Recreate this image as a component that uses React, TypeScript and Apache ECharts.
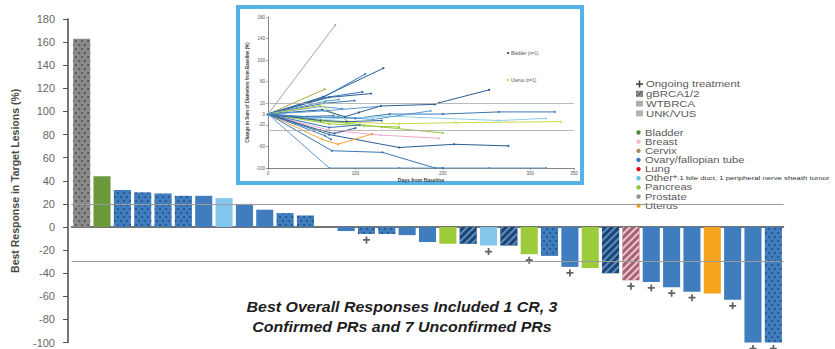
import React, { useEffect, useRef } from "react";
import * as echarts from "echarts";

// ---------- Waterfall data ----------
const patients = ["P1","P2","P3","P4","P5","P6","P7","P8","P9","P10","P11","P12","P13","P14","P15","P16","P17","P18","P19","P20","P21","P22","P23","P24","P25","P26","P27","P28","P29","P30","P31","P32","P33","P34","P35"];
const bestResponse = [163, 44, 32, 30, 29, 27, 27, 25, 20, 15, 12, 10, 0, -3.5, -6, -6, -7, -13, -14.5, -14.5, -16, -16, -23.5, -25, -34.5, -35.5, -40, -46, -47.5, -52, -56, -57.5, -63, -100, -100];
const tumorType = ["Prostate","Bladder","Ovary","Ovary","Ovary","Ovary","Ovary","Other","Ovary","Ovary","Ovary","Ovary","Ovary","Ovary","Ovary","Ovary","Ovary","Ovary","Pancreas","Ovary","Other","Ovary","Pancreas","Ovary","Ovary","Pancreas","Ovary","Breast","Ovary","Ovary","Ovary","Uterus","Ovary","Ovary","Ovary"];
const brcaStatus = ["WT","UNK","WT","WT","WT","WT","UNK","UNK","UNK","UNK","WT","WT","UNK","UNK","WT","WT","UNK","UNK","UNK","G","UNK","G","UNK","WT","UNK","UNK","G","G","UNK","UNK","UNK","UNK","UNK","UNK","WT"];
const ongoing = [0,0,0,0,0,0,0,0,0,0, 0,0,0,0,1,0,0,0,0,0, 1,0,1,0,1,0,0,1,1,1, 1,0,1,1,1];
const refLines = [20, -30];
const annotation = ["Best Overall Responses Included 1 CR, 3", "Confirmed PRs and 7 Unconfirmed PRs"];

// ---------- Legend data ----------
const statusLabels = ["Ongoing treatment", "gBRCA1/2", "WTBRCA", "UNK/VUS"];
const tumorLabels = ["Bladder", "Breast", "Cervix", "Ovary/fallopian tube", "Lung", "Other*", "Pancreas", "Prostate", "Uterus"];
const tumorColors = ["#4f8a3e", "#f4b5c6", "#a38b62", "#3b78bb", "#e5001c", "#63c5ec", "#8cc540", "#8d8f9c", "#f29d20"];
const otherNote = ":1 bile duct, 1 peripheral nerve sheath tumor";

// ---------- Spider (inset) data ----------
const spiderLines: { t: string; p: number[][] }[] = [
  { t: "prostate", p: [[0, 0], [77, 165]] },
  { t: "bladder", p: [[0, 0], [65, 46]] },
  { t: "ov2", p: [[0, 0], [63, 32], [132, 85]] },
  { t: "ov1", p: [[0, 0], [60, 28], [111, 74]] },
  { t: "ov1", p: [[0, 0], [62, 30], [108, 41]] },
  { t: "ov2", p: [[0, 0], [70, 31], [118, 38]] },
  { t: "ov3", p: [[0, 0], [66, 24], [81, 27]] },
  { t: "ov1", p: [[0, 0], [64, 20], [99, 25]] },
  { t: "ov3", p: [[0, 0], [60, 14], [85, 10]] },
  { t: "pancY", p: [[0, 0], [60, 16], [90, -12]] },
  { t: "ov2", p: [[0, 0], [62, 8], [88, -5], [104, 3], [129, 15], [191, 18], [196, 21], [253, 45]] },
  { t: "ov1", p: [[0, 0], [45, -5], [100, -8], [139, 0], [200, 0], [264, 4], [328, 4]] },
  { t: "other", p: [[0, 0], [60, -10], [140, -4], [264, -12], [318, -8]] },
  { t: "pancY", p: [[0, 0], [65, -14], [150, -18], [215, -16], [335, -14]] },
  { t: "pancreas", p: [[0, 0], [62, -12], [130, -24], [200, -35]] },
  { t: "pancreas", p: [[0, 0], [70, -18], [110, -22], [150, -24]] },
  { t: "breast", p: [[0, 0], [70, -30], [129, -39], [196, -45]] },
  { t: "ov2", p: [[0, 0], [70, -38], [150, -62], [213, -56], [275, -59]] },
  { t: "uterus", p: [[0, 0], [62, -47], [80, -56], [119, -37]] },
  { t: "ov1", p: [[0, 0], [73, -68], [131, -71], [191, -100], [200, -100]] },
  { t: "ov3", p: [[0, 0], [70, -100], [150, -100], [253, -100], [318, -100]] },
  { t: "ov1", p: [[0, 0], [65, -40], [72, -47]] },
  { t: "ov2", p: [[0, 0], [60, -30], [76, -36], [100, -26]] },
  { t: "ov1", p: [[0, 0], [70, -25], [105, -20]] },
  { t: "ov3", p: [[0, 0], [45, -8], [80, -5], [120, -10], [186, 6]] },
  { t: "ov2", p: [[0, 0], [60, -12], [90, -14], [130, -12]] },
  { t: "ov1", p: [[0, 0], [30, -5], [75, -3]] },
  { t: "ov3", p: [[0, 0], [65, 6], [125, 14]] },
];
const spiderTicks = [-100, -60, -20, 0, 20, 60, 100, 140, 180];
const insetLegend = ["Bladder (n=1)", "Uterus (n=1)"];

const FONT = "Liberation Sans, Arial, Helvetica, sans-serif";

const barBase: Record<string, string> = {
  Prostate: "#8a8a8a",
  Bladder: "#6a9a3b",
  Ovary: "#3f7dbe",
  Other: "#85c6ec",
  Pancreas: "#9ccb3c",
  Breast: "#b07686",
  Uterus: "#f5a31f",
};
const spiderColor: Record<string, string> = {
  prostate: "#a3a3a3",
  bladder: "#b0a84a",
  ov1: "#3a77b5",
  ov2: "#2c5d92",
  ov3: "#5a9bd2",
  other: "#8fcdea",
  pancreas: "#9acb3c",
  pancY: "#cbd84a",
  breast: "#f0a6cc",
  uterus: "#f2a23a",
};

function barItem(i: number) {
  const t = tumorType[i];
  const s = brcaStatus[i];
  let color = barBase[t];
  let decal: any = undefined;
  if (s === "WT") {
    decal = {
      symbol: "circle",
      symbolSize: 1,
      color: t === "Prostate" ? "rgba(45,45,45,0.6)" : "rgba(20,45,85,0.55)",
      dashArrayX: [[2, 4], [0, 3, 2, 1]],
      dashArrayY: [2, 2],
    };
  } else if (s === "G") {
    color = t === "Breast" ? "#a36373" : "#1e456e";
    decal = {
      symbol: "rect",
      symbolSize: 1,
      color: t === "Breast" ? "rgba(240,200,212,0.95)" : "rgba(95,145,205,0.95)",
      dashArrayX: [1, 0],
      dashArrayY: [1.5, 2.5],
      rotation: -Math.PI / 4,
    };
  }
  return { value: bestResponse[i], itemStyle: { color, decal } };
}

function txt(text: string, x: number, y: number, fontSize: number, scaleX: number, fill: string, extra: any = {}) {
  return {
    type: "text",
    x,
    y,
    scaleX,
    style: { text, x: 0, y: 0, fontSize, fill, verticalAlign: "middle", fontFamily: FONT, ...extra },
  };
}

function buildOption() {
  const barData = bestResponse.map((_, i) => barItem(i));
  const plusData = bestResponse
    .map((v, i) => (ongoing[i] ? [patients[i], v] : null))
    .filter((d) => d !== null);

  const spiderSeries = spiderLines.map((ln, k) => ({
    type: "line",
    xAxisIndex: 1,
    yAxisIndex: 1,
    data: ln.p,
    symbol: "circle",
    symbolSize: 2.2,
    showSymbol: true,
    lineStyle: { width: 1, color: spiderColor[ln.t] },
    itemStyle: { color: spiderColor[ln.t] },
    z: 3,
    markLine:
      k === 0
        ? {
            silent: true,
            symbol: "none",
            label: { show: false },
            lineStyle: { color: "#a8a8a8", width: 0.8, type: "solid" },
            data: refLines.map((y) => ({ yAxis: y })),
          }
        : undefined,
  }));

  const graphics: any[] = [];
  // inset frame
  graphics.push({
    type: "rect",
    z: 0,
    shape: { x: 238, y: 7, width: 344, height: 176 },
    style: { fill: "#ffffff", stroke: "#55b2e6", lineWidth: 4 },
  });
  // inset legend
  insetLegend.forEach((lab, i) => {
    const y = 53 + i * 27;
    graphics.push({ type: "circle", shape: { cx: 508, cy: y, r: 1.2 }, style: { fill: i === 0 ? "#555" : "#c8d050" } });
    graphics.push(txt(lab, 511, y, 4.5, 1, "#555"));
  });
  // status legend
  statusLabels.forEach((lab, i) => {
    const y = 84 + i * 9.8;
    if (i === 0) {
      graphics.push({ type: "rect", shape: { x: 636, y: y - 0.7, width: 7, height: 1.6 }, style: { fill: "#444" } });
      graphics.push({ type: "rect", shape: { x: 638.7, y: y - 3.5, width: 1.6, height: 7 }, style: { fill: "#444" } });
    } else {
      const fills = ["", "#707070", "#bdbdbd", "#b3b3b3"];
      graphics.push({ type: "rect", shape: { x: 636, y: y - 3, width: 7, height: 6 }, style: { fill: fills[i] } });
      if (i === 1) {
        graphics.push({ type: "line", shape: { x1: 636, y1: y + 1, x2: 640, y2: y - 3 }, style: { stroke: "#c9c9c9", lineWidth: 0.8 } });
        graphics.push({ type: "line", shape: { x1: 639, y1: y + 3, x2: 643, y2: y - 1 }, style: { stroke: "#c9c9c9", lineWidth: 0.8 } });
      }
      if (i === 2) {
        graphics.push({ type: "line", shape: { x1: 636, y1: y - 1, x2: 643, y2: y - 1 }, style: { stroke: "#8a8a8a", lineWidth: 0.7 } });
        graphics.push({ type: "line", shape: { x1: 636, y1: y + 1.5, x2: 643, y2: y + 1.5 }, style: { stroke: "#8a8a8a", lineWidth: 0.7 } });
      }
    }
    graphics.push(txt(lab, 646, y, 9.3, 1.22, "#5a5a5a"));
  });
  // tumor legend
  tumorLabels.forEach((lab, i) => {
    const y = 132.5 + i * 9.15;
    graphics.push({ type: "circle", shape: { cx: 638.5, cy: y, r: 2.2 }, style: { fill: tumorColors[i] } });
    if (lab === "Other*") {
      graphics.push(
        txt("{a|" + lab + "}{b|" + otherNote + "}", 645, y, 8.6, 1.3, "#5a5a5a", {
          rich: {
            a: { fontSize: 8.6, fill: "#5a5a5a", fontFamily: FONT },
            b: { fontSize: 6, fill: "#333", fontFamily: FONT },
          },
        })
      );
    } else {
      graphics.push(txt(lab, 645, y, 8.6, 1.3, "#5a5a5a"));
    }
  });
  // annotation
  graphics.push({
    type: "text",
    x: 402,
    y: 317,
    scaleX: 1.1,
    style: {
      text: annotation.join("\n"),
      x: 0,
      y: 0,
      align: "center",
      verticalAlign: "middle",
      lineHeight: 20,
      fontSize: 14.5,
      fontWeight: "bold",
      fontStyle: "italic",
      fill: "#1e1e1e",
      fontFamily: FONT,
    },
  });

  return {
    animation: false,
    backgroundColor: "#ffffff",
    textStyle: { fontFamily: FONT },
    grid: [
      { left: 71.5, top: 19, width: 712, height: 323.6 },
      { left: 268, top: 17, width: 306, height: 151 },
    ],
    xAxis: [
      {
        type: "category",
        gridIndex: 0,
        data: patients,
        axisLine: { onZero: true, lineStyle: { color: "#474747", width: 1.5 } },
        axisTick: { show: false },
        axisLabel: { show: false },
        splitLine: { show: false },
      },
      {
        type: "value",
        gridIndex: 1,
        min: 0,
        max: 350,
        interval: 100,
        axisLine: { onZero: false, lineStyle: { color: "#666", width: 0.8 } },
        axisTick: { length: 2, lineStyle: { color: "#666", width: 0.6 } },
        axisLabel: { fontSize: 4.5, color: "#555", margin: 3 },
        splitLine: { show: false },
        name: "Days from Baseline",
        nameLocation: "middle",
        nameGap: 9,
        nameTextStyle: { fontSize: 5, fontWeight: "bold", color: "#444" },
      },
    ],
    yAxis: [
      {
        type: "value",
        gridIndex: 0,
        min: -100,
        max: 180,
        interval: 20,
        offset: 3.5,
        axisLine: { show: true, lineStyle: { color: "#474747", width: 1.5 } },
        axisTick: { show: true, length: 5, lineStyle: { color: "#555", width: 1 } },
        axisLabel: { fontSize: 11, color: "#666", margin: 13 },
        splitLine: { show: false },
        name: "Best Response in Target Lesions (%)",
        nameLocation: "middle",
        nameGap: 48,
        nameTextStyle: { fontSize: 10.5, fontWeight: "bold", color: "#4a4a4a" },
      },
      {
        type: "value",
        gridIndex: 1,
        min: -100,
        max: 180,
        interval: 20,
        axisLine: { show: true, onZero: false, lineStyle: { color: "#666", width: 0.8 } },
        axisTick: { show: true, length: 2, customValues: spiderTicks, lineStyle: { color: "#666", width: 0.6 } },
        axisLabel: { fontSize: 4.5, color: "#555", margin: 3, customValues: spiderTicks },
        splitLine: { show: false },
        name: "Change in Sum of Diameters from Baseline (%)",
        nameLocation: "middle",
        nameGap: 18,
        nameTextStyle: { fontSize: 4.5, fontWeight: "bold", color: "#444" },
      },
    ],
    series: [
      {
        type: "bar",
        xAxisIndex: 0,
        yAxisIndex: 0,
        data: barData,
        barCategoryGap: "16%",
        z: 2,
        markLine: {
          silent: true,
          symbol: "none",
          label: { show: false },
          lineStyle: { color: "#9a9a9a", width: 1, type: "solid" },
          data: refLines.map((y) => ({ yAxis: y })),
        },
      },
      {
        type: "scatter",
        xAxisIndex: 0,
        yAxisIndex: 0,
        data: plusData,
        symbol: "path://M3,0H5V3H8V5H5V8H3V5H0V3H3Z",
        symbolSize: 7,
        symbolOffset: [0, 6],
        itemStyle: { color: "#3a3a3a" },
        clip: false,
        z: 4,
      },
      ...spiderSeries,
    ],
    graphic: graphics,
  };
}

export default function App() {
  const ref = useRef<HTMLDivElement>(null);
  useEffect(() => {
    if (!ref.current) return;
    const chart = echarts.init(ref.current, undefined, { renderer: "svg" });
    chart.setOption(buildOption() as any);
    return () => chart.dispose();
  }, []);
  return (
    <div
      ref={ref}
      style={{ position: "fixed", left: 0, top: 0, width: 835, height: 349, background: "#fff" }}
    />
  );
}
